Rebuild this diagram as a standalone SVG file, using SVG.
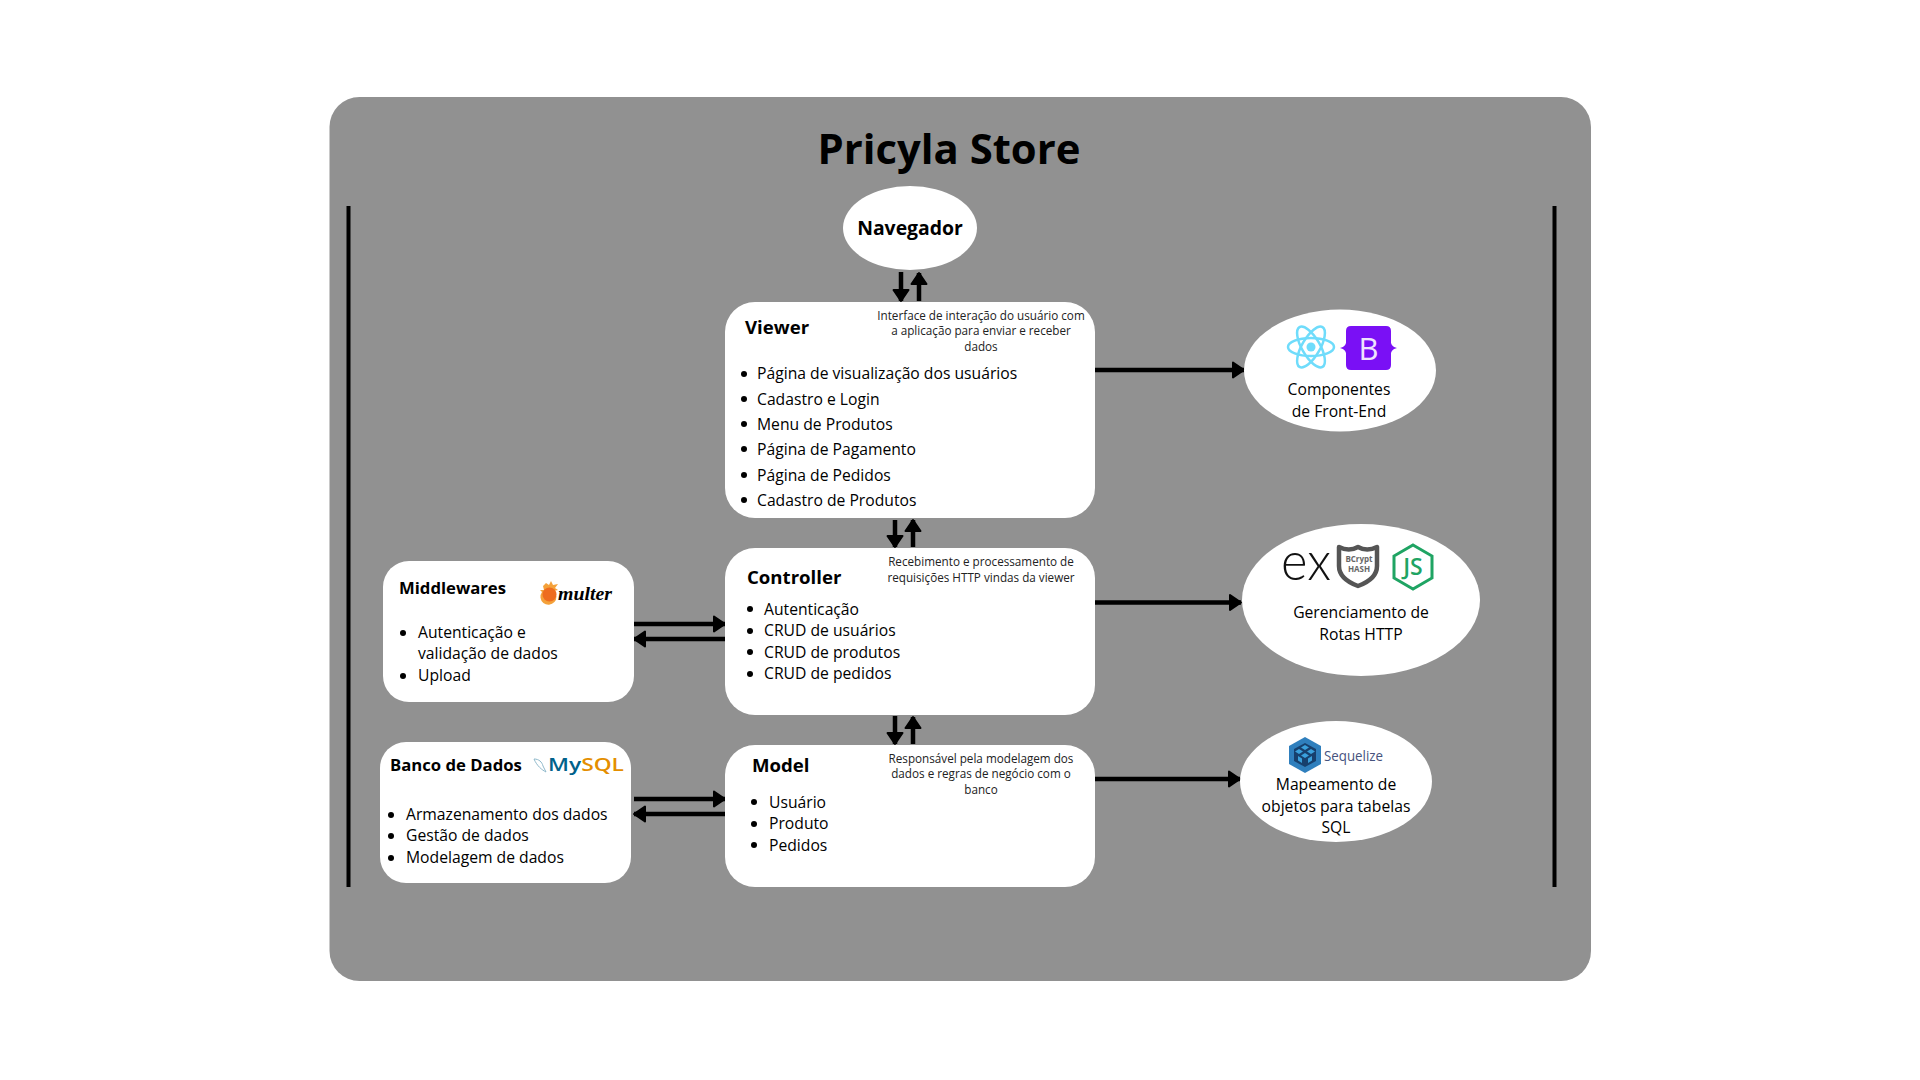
<svg xmlns="http://www.w3.org/2000/svg" width="1920" height="1080" viewBox="0 0 1920 1080">
<style>
text{font-family:"Open Sans","Noto Sans",sans-serif;fill:#000}
.b{font-size:15.7px}
.t{font-size:18.6px;font-weight:700}
.s{font-size:16.7px;font-weight:700}
.d{font-size:11.7px;text-anchor:middle;fill:#222}
.c{font-size:15.7px;text-anchor:middle}
.w{fill:#fff}
.a{stroke:#000;stroke-width:4.5;fill:none}
</style>
<defs>
<marker id="h" markerUnits="userSpaceOnUse" markerWidth="16" markerHeight="20" refX="13" refY="10" orient="auto"><path d="M2 2.500L13 10L2 17.500Z" fill="#000" stroke="#000" stroke-width="2" stroke-linejoin="round"/></marker>
<circle id="dot" r="3" fill="#000"/>
</defs>
<rect width="1920" height="1080" fill="#fff"/>
<rect id="panel" x="329.500" y="97" width="1261.500" height="884" rx="30" fill="#919191"/>
<text x="949" y="164" text-anchor="middle" font-size="41.800" font-weight="700">Pricyla Store</text>
<g id="bars" stroke="#000" stroke-width="4"><path d="M348.500 206V887M1554.500 206V887"/></g>

<g id="connectors">
<path class="a" marker-end="url(#h)" d="M901 272V301"/><path class="a" marker-end="url(#h)" d="M919 301V273"/>
<path class="a" marker-end="url(#h)" d="M895 520V547"/><path class="a" marker-end="url(#h)" d="M913 547V520"/>
<path class="a" marker-end="url(#h)" d="M895 716V744"/><path class="a" marker-end="url(#h)" d="M913 744V717"/>
<path class="a" marker-end="url(#h)" d="M634 624H725"/><path class="a" marker-end="url(#h)" d="M725 639H634"/>
<path class="a" marker-end="url(#h)" d="M634 799H725"/><path class="a" marker-end="url(#h)" d="M725 814H634"/>
<path class="a" marker-end="url(#h)" d="M1093 370H1244"/><path class="a" marker-end="url(#h)" d="M1095 602.500H1241"/><path class="a" marker-end="url(#h)" d="M1095 779H1240"/>
</g>

<g id="navegador"><ellipse class="w" cx="910" cy="228" rx="67" ry="42"/><text x="910" y="235" text-anchor="middle" font-size="19.400" font-weight="700">Navegador</text></g>

<g id="viewer"><rect class="w" x="725" y="302" width="370" height="216" rx="30"/>
<text class="t" x="745" y="334">Viewer</text>
<text class="d" x="981" y="320">Interface de interação do usuário com</text><text class="d" x="981" y="335">a aplicação para enviar e receber</text><text class="d" x="981" y="351">dados</text>
<use href="#dot" x="744" y="374"/><text class="b" x="757" y="379">Página de visualização dos usuários</text>
<use href="#dot" x="744" y="399"/><text class="b" x="757" y="405">Cadastro e Login</text>
<use href="#dot" x="744" y="424"/><text class="b" x="757" y="430">Menu de Produtos</text>
<use href="#dot" x="744" y="449"/><text class="b" x="757" y="455">Página de Pagamento</text>
<use href="#dot" x="744" y="475"/><text class="b" x="757" y="481">Página de Pedidos</text>
<use href="#dot" x="744" y="500"/><text class="b" x="757" y="506">Cadastro de Produtos</text></g>

<g id="controller"><rect class="w" x="725" y="548" width="370" height="167" rx="30"/>
<text class="t" x="747" y="584">Controller</text>
<text class="d" x="981" y="566">Recebimento e processamento de</text><text class="d" x="981" y="582">requisições HTTP vindas da viewer</text>
<use href="#dot" x="750" y="609"/><text class="b" x="764" y="615">Autenticação</text>
<use href="#dot" x="750" y="631"/><text class="b" x="764" y="636">CRUD de usuários</text>
<use href="#dot" x="750" y="652"/><text class="b" x="764" y="658">CRUD de produtos</text>
<use href="#dot" x="750" y="674"/><text class="b" x="764" y="679">CRUD de pedidos</text></g>

<g id="model"><rect class="w" x="725" y="745" width="370" height="142" rx="30"/>
<text class="t" x="752" y="772">Model</text>
<text class="d" x="981" y="763">Responsável pela modelagem dos</text><text class="d" x="981" y="778">dados e regras de negócio com o</text><text class="d" x="981" y="794">banco</text>
<use href="#dot" x="754" y="802"/><text class="b" x="769" y="808">Usuário</text>
<use href="#dot" x="754" y="824"/><text class="b" x="769" y="829">Produto</text>
<use href="#dot" x="754" y="845"/><text class="b" x="769" y="851">Pedidos</text></g>

<g id="middlewares"><rect class="w" x="383" y="561" width="251" height="141" rx="26"/>
<text class="s" x="399" y="594">Middlewares</text>
<g id="multer-logo"><path d="M546 583l3 2 2-4 2 4 5-1-3 4 3 2-4 1a8 8 0 1 1-12 1l-2-2 4 0-1-4Z" fill="#f4a13a"/><circle cx="549.500" cy="594.500" r="7" fill="#ee6c1e"/><text x="558" y="600" font-size="19" font-style="italic" font-weight="700" textLength="54" lengthAdjust="spacingAndGlyphs" style="font-family:'Liberation Serif',serif">multer</text></g>
<use href="#dot" x="403" y="633"/><text class="b" x="418" y="638">Autenticação e</text><text class="b" x="418" y="659">validação de dados</text>
<use href="#dot" x="403" y="676"/><text class="b" x="418" y="681">Upload</text></g>

<g id="banco"><rect class="w" x="380" y="742" width="251" height="141" rx="26"/>
<text class="s" x="390" y="771">Banco de Dados</text>
<g id="mysql-logo"><path d="M534 759c5 0 8 3 9 7l3 6c-4-2-9-6-12-13Z" fill="none" stroke="#8fb9cb" stroke-width="1"/><text x="548" y="771" font-size="17.500" font-weight="600" textLength="76" lengthAdjust="spacingAndGlyphs"><tspan fill="#00618a">My</tspan><tspan fill="#e48e00">SQL</tspan></text></g>
<use href="#dot" x="391" y="815"/><text class="b" x="406" y="820">Armazenamento dos dados</text>
<use href="#dot" x="391" y="836"/><text class="b" x="406" y="841">Gestão de dados</text>
<use href="#dot" x="391" y="858"/><text class="b" x="406" y="863">Modelagem de dados</text></g>

<g id="frontend"><ellipse class="w" cx="1340" cy="370.500" rx="96" ry="61"/>
<g id="react-logo" fill="none" stroke="#6fdcfb" stroke-width="2.500"><ellipse cx="1311" cy="347" rx="23" ry="9"/><ellipse cx="1311" cy="347" rx="23" ry="9" transform="rotate(60 1311 347)"/><ellipse cx="1311" cy="347" rx="23" ry="9" transform="rotate(120 1311 347)"/><circle cx="1311" cy="347" r="4.500" fill="#6fdcfb" stroke="none"/></g>
<g id="bootstrap-logo"><path d="M1351 326H1386Q1391 326 1391 331V343Q1392 347 1397 348Q1392 349 1391 353V365Q1391 370 1386 370H1351Q1346 370 1346 365V353Q1345 349 1340 348Q1345 347 1346 343V331Q1346 326 1351 326Z" fill="#7a10f5"/><text x="1368.500" y="360" text-anchor="middle" font-size="31" style="fill:#efe3fd">B</text></g>
<text class="c" x="1339" y="395">Componentes</text><text class="c" x="1339" y="417">de Front-End</text></g>

<g id="rotas"><ellipse class="w" cx="1361" cy="600" rx="119" ry="76"/>
<text x="1281" y="580" font-size="54" font-weight="300" textLength="50" lengthAdjust="spacingAndGlyphs" style="font-family:Lato,sans-serif;fill:#111">ex</text>
<g id="bcrypt-logo"><path d="M1339 547Q1349 552 1358 547Q1367 552 1377 547V566Q1377 579 1358 586Q1339 579 1339 566Z" fill="#fff" stroke="#555" stroke-width="4.500" stroke-linejoin="round"/><text x="1359" y="562" text-anchor="middle" font-size="8" font-weight="700" style="fill:#666">BCrypt</text><text x="1359" y="572" text-anchor="middle" font-size="8" font-weight="700" style="fill:#666">HASH</text></g>
<g id="node-logo"><path d="M1413 545L1432 556V578L1413 589L1394 578V556Z" fill="none" stroke="#1fa463" stroke-width="3"/><text x="1413" y="575" text-anchor="middle" font-size="23" font-weight="600" style="fill:#1fa463">JS</text></g>
<text class="c" x="1361" y="618">Gerenciamento de</text><text class="c" x="1361" y="640">Rotas HTTP</text></g>

<g id="orm"><ellipse class="w" cx="1336" cy="781.500" rx="96" ry="60.500"/>
<g id="sequelize-logo"><path d="M1305 737L1321 746V764L1305 773L1289 764V746Z" fill="#2f7fbd"/><path d="M1305 743L1316 749V761L1305 767L1294 761V749Z" fill="#17406d"/><path d="M1305 745L1309 747.500L1305 750L1301 747.500ZM1299 749L1303 751.500L1299 754L1295 751.500ZM1311 749L1315 751.500L1311 754L1307 751.500ZM1305 753L1309 755.500L1305 758L1301 755.500ZM1298 756L1302 758.500V763L1298 760.500ZM1312 756V760.500L1308 763V758.500Z" fill="#3aa0dc"/><text x="1324" y="761" font-size="14" textLength="59" lengthAdjust="spacingAndGlyphs" style="fill:#46527d">Sequelize</text></g>
<text class="c" x="1336" y="790">Mapeamento de</text><text class="c" x="1336" y="812">objetos para tabelas</text><text class="c" x="1336" y="833">SQL</text></g>
</svg>
